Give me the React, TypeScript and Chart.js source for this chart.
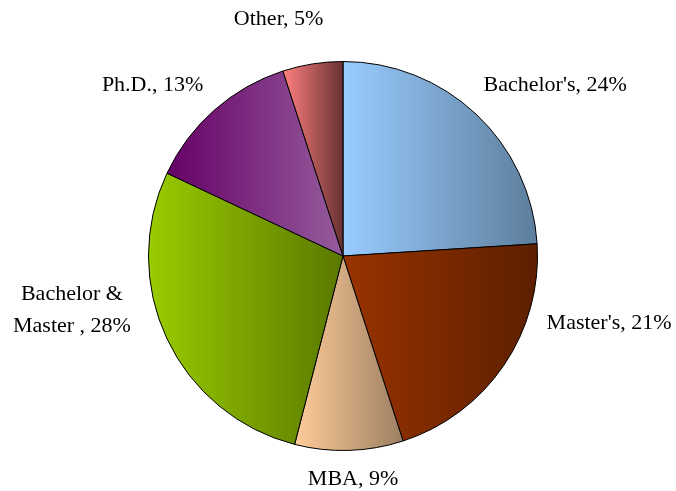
import React, { useEffect, useRef } from "react";
import { Chart, registerables } from "chart.js";

Chart.register(...registerables);

// ---- data ----
const categories: string[] = ["Bachelor's", "Master's", "MBA", "Bachelor & Master ", "Ph.D.", "Other"];
const shares: number[] = [24, 21, 9, 28, 13, 5];
const labelLines: string[][] = [
  ["Bachelor's, 24%"],
  ["Master's, 21%"],
  ["MBA, 9%"],
  ["Bachelor &", "Master , 28%"],
  ["Ph.D., 13%"],
  ["Other, 5%"],
];

// ---- styles ----
const gradLeft: string[] = ["#99CCFF", "#993300", "#FFCC99", "#99CC00", "#660066", "#FF8080"];
const gradRight: string[] = ["#5D7E9C", "#5C1F00", "#9C7F62", "#5A7800", "#955C9C", "#693232"];

// ---- label layout (angle clockwise from top in degrees, distance in radii) ----
const labelAngle: number[] = [50.9, 103.8, 177.4, 259.0, 312.2, 344.9];
const labelDist: number[] = [1.402, 1.405, 1.137, 1.416, 1.318, 1.267];

const FONT = '22px "Liberation Serif", "Times New Roman", serif';

function geometry(chart: any) {
  const a = chart.chartArea;
  const cx = (a.left + a.right) / 2;
  const cy = (a.top + a.bottom) / 2;
  const r = Math.min(a.right - a.left, a.bottom - a.top) / 2;
  return { cx, cy, r };
}

const labelPlugin = {
  id: "outsideLabels",
  afterDraw(chart: any) {
    const ctx = chart.ctx;
    const { cx, cy, r } = geometry(chart);
    ctx.save();
    ctx.font = FONT;
    ctx.fillStyle = "#000";
    ctx.textAlign = "center";
    ctx.textBaseline = "alphabetic";
    const lineH = 32;
    labelLines.forEach((lines, i) => {
      const th = (labelAngle[i] * Math.PI) / 180;
      const x = cx + r * labelDist[i] * Math.sin(th);
      const y = cy - r * labelDist[i] * Math.cos(th);
      const n = lines.length;
      lines.forEach((ln, j) => {
        const by = y + 7.5 + (j - (n - 1) / 2) * lineH;
        ctx.fillText(ln, x, by);
      });
    });
    ctx.restore();
  },
};

function sliceGradient(context: any) {
  const chart = context.chart;
  const i = context.dataIndex;
  if (!chart.chartArea || i === undefined) return gradLeft[i ?? 0];
  const { cx, cy, r } = geometry(chart);
  const total = shares.reduce((s, v) => s + v, 0);
  let before = 0;
  for (let k = 0; k < i; k++) before += shares[k];
  const a0 = -Math.PI / 2 + (before / total) * Math.PI * 2;
  const a1 = a0 + (shares[i] / total) * Math.PI * 2;
  const xs = [cx, cx + r * Math.cos(a0), cx + r * Math.cos(a1)];
  for (let m = -2; m <= 4; m++) {
    const ang = m * Math.PI;
    if (ang > a0 && ang < a1) xs.push(cx + r * Math.cos(ang));
  }
  const x0 = Math.min(...xs);
  const x1 = Math.max(...xs);
  const g = chart.ctx.createLinearGradient(x0, 0, x1 + 0.001, 0);
  g.addColorStop(0, gradLeft[i]);
  g.addColorStop(1, gradRight[i]);
  return g;
}

export default function App() {
  const ref = useRef<HTMLCanvasElement | null>(null);
  useEffect(() => {
    if (!ref.current) return;
    const chart = new Chart(ref.current, {
      type: "pie",
      data: {
        labels: categories,
        datasets: [
          {
            data: shares,
            backgroundColor: sliceGradient as any,
            borderColor: "#000000",
            borderWidth: 1,
          },
        ],
      },
      options: {
        responsive: false,
        animation: false,
        events: [],
        layout: { padding: { left: 10, right: 0, top: 61, bottom: 40 } },
        plugins: {
          legend: { display: false },
          tooltip: { enabled: false },
          title: { display: false },
        },
      },
      plugins: [labelPlugin],
    });
    return () => chart.destroy();
  }, []);
  return (
    <div style={{ position: "absolute", left: 0, top: 0, width: 676, height: 491, background: "#fff" }}>
      <canvas ref={ref} width={676} height={491} style={{ display: "block" }} />
    </div>
  );
}
